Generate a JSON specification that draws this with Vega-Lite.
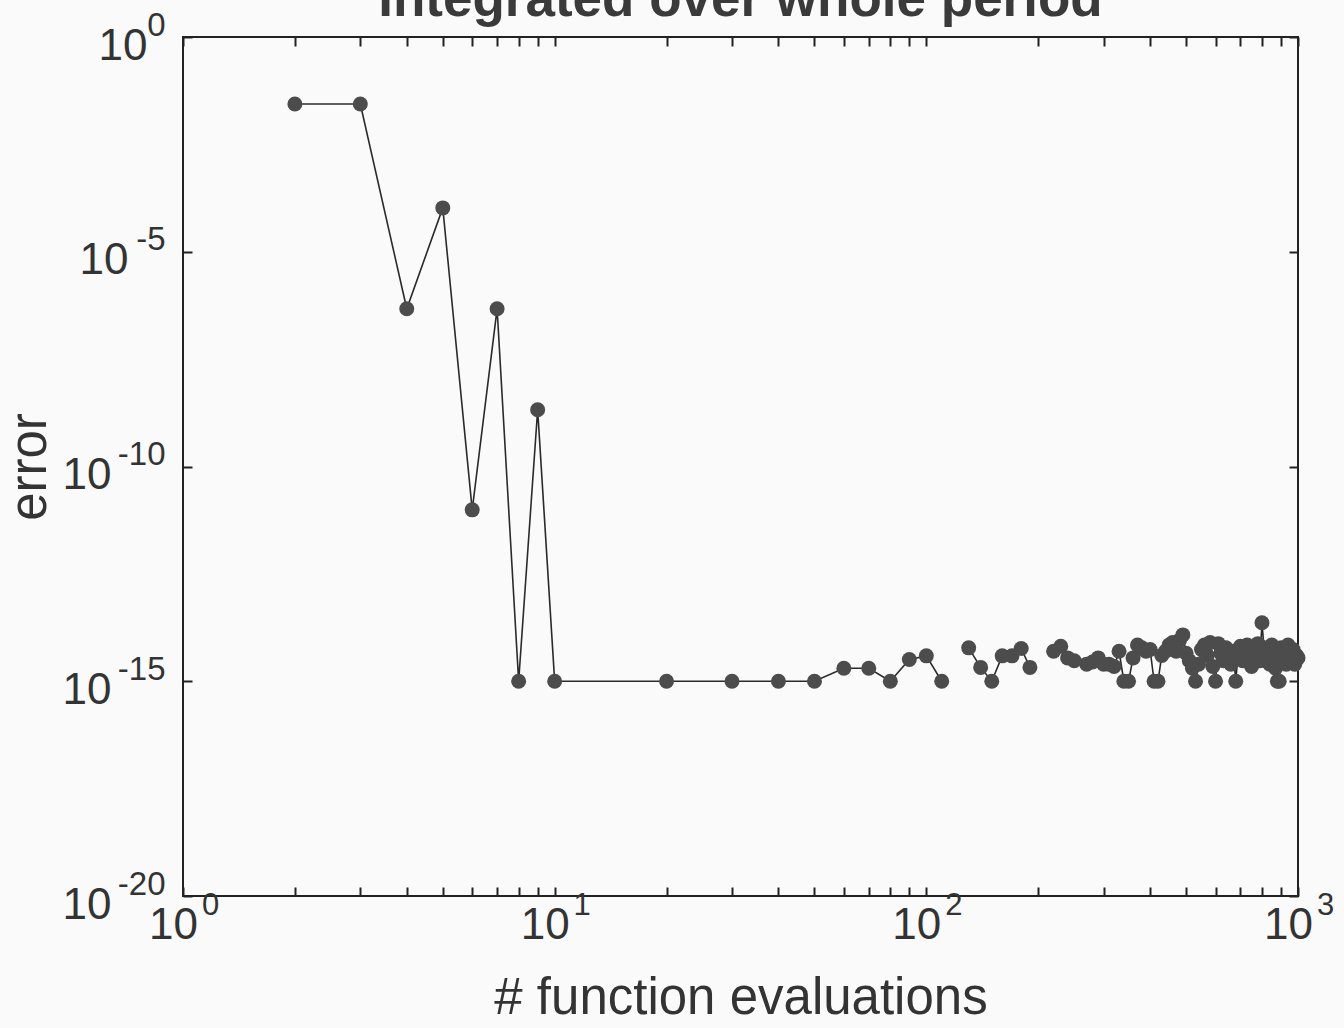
{
  "$schema": "https://vega.github.io/schema/vega-lite/v6.json",
  "width": 1115,
  "height": 859,
  "autosize": {"type": "none"},
  "padding": {"left": 183, "top": 37, "right": 46, "bottom": 132},
  "background": "#fafafa",
  "title": {"text": "Integrated over whole period", "fontSize": 53, "font": "Liberation Sans", "fontWeight": "bold", "color": "#3a3a3a", "baseline": "alphabetic", "offset": 0, "dy": 60, "anchor": "middle", "frame": "group"},
  "config": {
    "view": {"stroke": "#222222", "strokeWidth": 2},
    "axis": {"labelFont": "Liberation Sans", "titleFont": "Liberation Sans", "labelColor": "#333333", "titleColor": "#333333", "grid": false, "domain": false, "tickColor": "#222222", "tickWidth": 2, "labelFlush": false, "labelOverlap": false, "labelBound": false}
  },
  "data": {"values": [
    {"n": 2, "err": 0.0275}, {"n": 3, "err": 0.0275}, {"n": 4, "err": 4.7e-7}, {"n": 5, "err": 1.05e-4},
    {"n": 6, "err": 9.8e-12}, {"n": 7, "err": 4.7e-7}, {"n": 8, "err": 1e-15}, {"n": 9, "err": 2.1e-9},
    {"n": 10, "err": 1e-15}, {"n": 20, "err": 1e-15}, {"n": 30, "err": 1e-15}, {"n": 40, "err": 1e-15},
    {"n": 50, "err": 1e-15}, {"n": 60, "err": 2e-15}, {"n": 70, "err": 2e-15}, {"n": 80, "err": 1e-15},
    {"n": 90, "err": 3.2e-15}, {"n": 100, "err": 3.9e-15}, {"n": 110, "err": 1e-15}, {"n": 120, "err": null},
    {"n": 130, "err": 6e-15}, {"n": 140, "err": 2.1e-15}, {"n": 150, "err": 1e-15}, {"n": 160, "err": 3.9e-15},
    {"n": 170, "err": 3.9e-15}, {"n": 180, "err": 5.8e-15}, {"n": 190, "err": 2.1e-15}, {"n": 200, "err": null},
    {"n": 210, "err": null}, {"n": 220, "err": 5e-15}, {"n": 230, "err": 6.5e-15}, {"n": 240, "err": 3.5e-15},
    {"n": 250, "err": 3e-15}, {"n": 260, "err": null}, {"n": 270, "err": 2.5e-15}, {"n": 280, "err": 2.8e-15},
    {"n": 290, "err": 3.5e-15}, {"n": 300, "err": 2.5e-15}, {"n": 310, "err": 2.5e-15}, {"n": 320, "err": 2.2e-15},
    {"n": 330, "err": 5e-15}, {"n": 340, "err": 1e-15}, {"n": 350, "err": 1e-15}, {"n": 360, "err": 3.5e-15},
    {"n": 370, "err": 7e-15}, {"n": 380, "err": 6e-15}, {"n": 390, "err": 5e-15}, {"n": 400, "err": 5.5e-15},
    {"n": 410, "err": 1e-15}, {"n": 420, "err": 1e-15}, {"n": 430, "err": 4e-15}, {"n": 440, "err": 5e-15},
    {"n": 450, "err": 7e-15}, {"n": 460, "err": 8e-15}, {"n": 470, "err": 5e-15}, {"n": 480, "err": 9e-15},
    {"n": 490, "err": 1.2e-14}, {"n": 500, "err": 4.5e-15}, {"n": 510, "err": 3e-15}, {"n": 520, "err": 2e-15},
    {"n": 530, "err": 1e-15}, {"n": 540, "err": 2.5e-15}, {"n": 550, "err": 5.5e-15}, {"n": 560, "err": 7e-15},
    {"n": 570, "err": 4e-15}, {"n": 580, "err": 8e-15}, {"n": 590, "err": 2.2e-15}, {"n": 600, "err": 1e-15},
    {"n": 610, "err": 7.5e-15}, {"n": 620, "err": 4.5e-15}, {"n": 630, "err": 3e-15}, {"n": 640, "err": 6e-15},
    {"n": 650, "err": 4e-15}, {"n": 660, "err": 2.5e-15}, {"n": 670, "err": 5e-15}, {"n": 680, "err": 1e-15},
    {"n": 690, "err": 4.5e-15}, {"n": 700, "err": 6.5e-15}, {"n": 710, "err": 3e-15}, {"n": 720, "err": 5e-15},
    {"n": 730, "err": 7e-15}, {"n": 740, "err": 3.5e-15}, {"n": 750, "err": 2.2e-15}, {"n": 760, "err": 6e-15},
    {"n": 770, "err": 4e-15}, {"n": 780, "err": 7.5e-15}, {"n": 790, "err": 3e-15}, {"n": 800, "err": 2.3e-14},
    {"n": 810, "err": 6e-15}, {"n": 820, "err": 3e-15}, {"n": 830, "err": 5e-15}, {"n": 840, "err": 2.5e-15},
    {"n": 850, "err": 7e-15}, {"n": 860, "err": 4e-15}, {"n": 870, "err": 2e-15}, {"n": 880, "err": 1e-15},
    {"n": 890, "err": 1e-15}, {"n": 900, "err": 6e-15}, {"n": 910, "err": 3.5e-15}, {"n": 920, "err": 5e-15},
    {"n": 930, "err": 2.5e-15}, {"n": 940, "err": 7e-15}, {"n": 950, "err": 4e-15}, {"n": 960, "err": 3e-15},
    {"n": 970, "err": 5.5e-15}, {"n": 980, "err": 2.5e-15}, {"n": 990, "err": 4e-15}, {"n": 1000, "err": 3.5e-15}
  ]},
  "resolve": {"axis": {"x": "independent", "y": "independent"}},
  "layer": [
    {
      "mark": {"type": "line", "color": "#2a2a2a", "strokeWidth": 1.6, "invalid": "break-paths-filter-domains"},
      "encoding": {
        "x": {"field": "n", "type": "quantitative", "scale": {"type": "log", "domain": [1, 1000], "nice": false},
          "axis": {"orient": "bottom", "title": "# function evaluations", "titleFontSize": 51, "titleFontWeight": "normal", "titlePadding": 26,
            "values": [1,2,3,4,5,6,7,8,9,10,20,30,40,50,60,70,80,90,100,200,300,400,500,600,700,800,900,1000],
            "labelExpr": "datum.value == 1 || datum.value == 10 || datum.value == 100 || datum.value == 1000 ? '10' : ''",
            "labelFontSize": 44, "labelBaseline": "middle", "labelPadding": 38, "labelOffset": -10, "tickSize": -9}},
        "y": {"field": "err", "type": "quantitative", "scale": {"type": "log", "domain": [1e-20, 1], "nice": false},
          "axis": {"orient": "left", "title": "error", "titleFontSize": 51, "titleFontWeight": "normal", "titlePadding": 6,
            "values": [1e-20, 1e-15, 1e-10, 1e-5, 1],
            "labelExpr": "'10'",
            "labelFontSize": 44, "labelAlign": "right", "labelBaseline": "middle", "labelOffset": 9,
            "labelPadding": {"condition": [{"test": "datum.value >= 0.5", "value": 45}, {"test": "datum.value > 1e-6", "value": 64}], "value": 81},
            "tickSize": -9}}
      }
    },
    {
      "mark": {"type": "circle", "color": "#4c4c4c", "opacity": 1, "size": 225},
      "encoding": {
        "x": {"field": "n", "type": "quantitative", "scale": {"type": "log", "domain": [1, 1000], "nice": false},
          "axis": {"orient": "top", "title": null, "labels": false,
            "values": [1,2,3,4,5,6,7,8,9,10,20,30,40,50,60,70,80,90,100,200,300,400,500,600,700,800,900,1000], "tickSize": -9}},
        "y": {"field": "err", "type": "quantitative", "scale": {"type": "log", "domain": [1e-20, 1], "nice": false},
          "axis": {"orient": "right", "title": null, "labels": false, "values": [1e-20, 1e-15, 1e-10, 1e-5, 1], "tickSize": -9}}
      }
    },
    {
      "mark": {"type": "circle", "opacity": 0, "size": 1},
      "encoding": {
        "x": {"field": "n", "type": "quantitative", "scale": {"type": "log", "domain": [1, 1000], "nice": false},
          "axis": {"orient": "bottom", "title": null, "ticks": false, "values": [1, 10, 100, 1000],
            "labelExpr": "datum.value == 1 ? '0' : datum.value == 10 ? '1' : datum.value == 100 ? '2' : '3'",
            "labelFontSize": 31, "labelBaseline": "middle", "labelPadding": 9, "labelOffset": 27}},
        "y": {"field": "err", "type": "quantitative", "scale": {"type": "log", "domain": [1e-20, 1], "nice": false},
          "axis": {"orient": "left", "title": null, "ticks": false, "values": [1e-20, 1e-15, 1e-10, 1e-5, 1],
            "labelExpr": "datum.value >= 0.5 ? '0' : datum.value > 1e-6 ? '-5' : datum.value > 1e-11 ? '-10' : datum.value > 1e-16 ? '-15' : '-20'",
            "labelFontSize": 33, "labelAlign": "right", "labelBaseline": "middle", "labelPadding": 18, "labelOffset": -12}}
      }
    }
  ]
}
